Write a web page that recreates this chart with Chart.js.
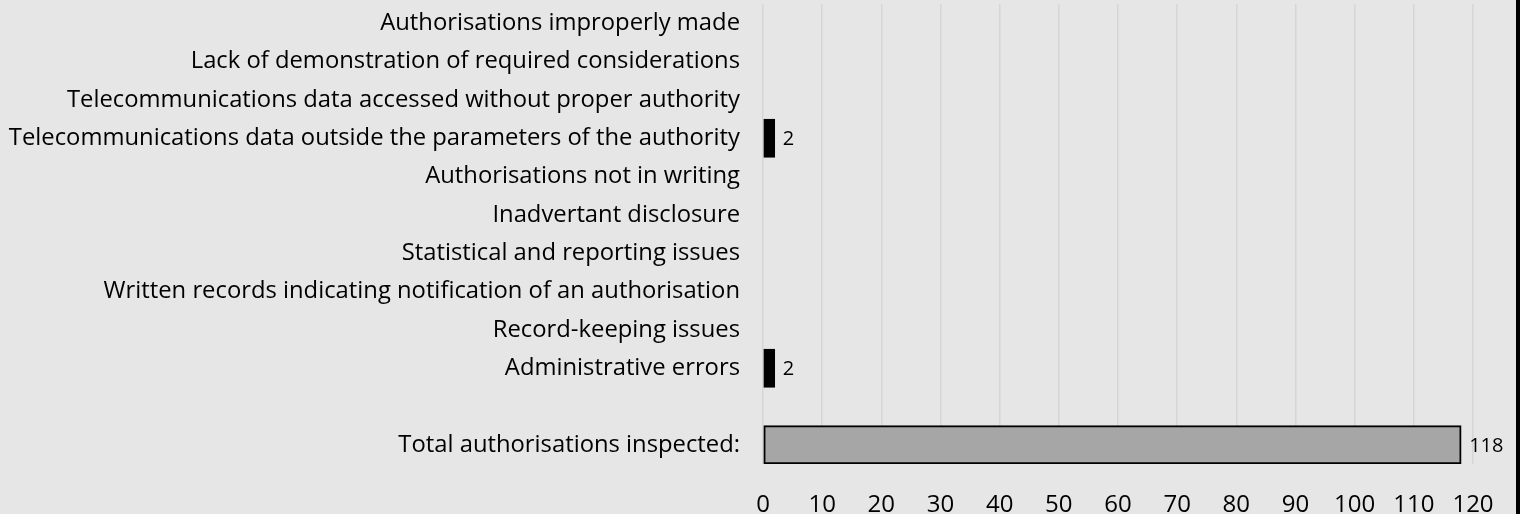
<!DOCTYPE html>
<html>
<head>
<meta charset="utf-8">
<script src="https://cdn.jsdelivr.net/npm/chart.js@4.4.1/dist/chart.umd.min.js"></script>
<style>
  html, body { margin: 0; padding: 0; background: #e6e6e6; }
  #wrap { width: 1516px; height: 514px; border-right: 4px solid #000; position: relative; }
  canvas { display: block; }
</style>
</head>
<body>
<div id="wrap"><canvas id="chart" width="1516" height="514"></canvas></div>
<script>
// Findings by category; the blank entry separates the issues from the total.
const categories = [
  'Authorisations improperly made',
  'Lack of demonstration of required considerations',
  'Telecommunications data accessed without proper authority',
  'Telecommunications data outside the parameters of the authority',
  'Authorisations not in writing',
  'Inadvertant disclosure',
  'Statistical and reporting issues',
  'Written records indicating notification of an authorisation',
  'Record-keeping issues',
  'Administrative errors',
  '',
  'Total authorisations inspected:'
];
const findings = [0, 0, 0, 2, 0, 0, 0, 0, 0, 2, null, 118];
const axisMin = 0;
const axisMax = 120;
const axisStep = 10;

const barColors = categories.map((c, i) => i === categories.length - 1 ? '#a6a6a6' : '#000000');
const barBorders = categories.map((c, i) => i === categories.length - 1 ? 2 : 1);

const FONT = '"Open Sans", "Noto Sans", sans-serif';

// Writes each non-zero value just past the end of its bar.
const valueLabels = {
  id: 'valueLabels',
  afterDatasetsDraw(chart) {
    const ctx = chart.ctx;
    const meta = chart.getDatasetMeta(0);
    ctx.save();
    ctx.font = '20px ' + FONT;
    ctx.fillStyle = '#000';
    ctx.textAlign = 'left';
    ctx.textBaseline = 'middle';
    meta.data.forEach((el, i) => {
      const v = findings[i];
      if (v) ctx.fillText(String(v), el.x + 8, el.y + 1);
    });
    ctx.restore();
  }
};

new Chart(document.getElementById('chart'), {
  type: 'bar',
  data: {
    labels: categories,
    datasets: [{
      data: findings,
      backgroundColor: barColors,
      borderColor: '#000000',
      borderWidth: barBorders,
      borderSkipped: false,
      barPercentage: 1.0,
      categoryPercentage: 1.0
    }]
  },
  options: {
    indexAxis: 'y',
    responsive: false,
    animation: false,
    layout: { padding: { top: 4, right: 43, bottom: 0, left: 0 } },
    plugins: { legend: { display: false }, tooltip: { enabled: false } },
    scales: {
      x: {
        type: 'linear',
        min: axisMin,
        max: axisMax,
        ticks: { stepSize: axisStep, color: '#000', font: { family: FONT, size: 24 }, padding: 27, maxRotation: 0, autoSkip: false },
        grid: { color: '#d6d6d6', lineWidth: 1.5, drawTicks: false },
        border: { display: false },
        afterFit(scale) { scale.height = 50; scale.paddingLeft = 0; scale.paddingRight = 0; }
      },
      y: {
        ticks: { color: '#000', font: { family: FONT, size: 23.8 }, padding: 23, autoSkip: false },
        grid: { display: false, drawTicks: false },
        border: { display: false },
        afterFit(scale) { scale.width = 763; scale.paddingTop = 0; scale.paddingBottom = 0; }
      }
    }
  },
  plugins: [valueLabels]
});
</script>
</body>
</html>
